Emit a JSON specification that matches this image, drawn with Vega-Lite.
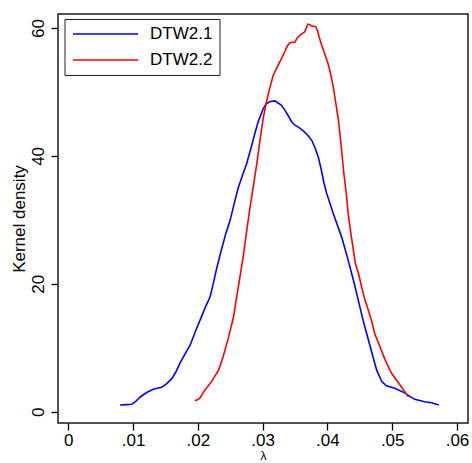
{
  "$schema": "https://vega.github.io/schema/vega-lite/v6.json",
  "width": 410,
  "height": 409,
  "autosize": "none",
  "padding": {"left": 58, "top": 14, "right": 4, "bottom": 40},
  "background": "white",
  "config": {
    "font": "Liberation Sans",
    "view": {"stroke": "#1a1a1a", "strokeWidth": 1.5}
  },
  "data": {
    "values": [
      {"series": "DTW2.1", "lambda": 0.0080, "density": 1.05},
      {"series": "DTW2.1", "lambda": 0.0090, "density": 1.1},
      {"series": "DTW2.1", "lambda": 0.0098, "density": 1.15},
      {"series": "DTW2.1", "lambda": 0.0104, "density": 1.6},
      {"series": "DTW2.1", "lambda": 0.0111, "density": 2.3},
      {"series": "DTW2.1", "lambda": 0.0121, "density": 3.0},
      {"series": "DTW2.1", "lambda": 0.0131, "density": 3.5},
      {"series": "DTW2.1", "lambda": 0.0144, "density": 3.8},
      {"series": "DTW2.1", "lambda": 0.0152, "density": 4.4},
      {"series": "DTW2.1", "lambda": 0.0160, "density": 5.2},
      {"series": "DTW2.1", "lambda": 0.0166, "density": 6.2},
      {"series": "DTW2.1", "lambda": 0.0172, "density": 7.5},
      {"series": "DTW2.1", "lambda": 0.0180, "density": 9.0},
      {"series": "DTW2.1", "lambda": 0.0188, "density": 10.4},
      {"series": "DTW2.1", "lambda": 0.0198, "density": 13.0},
      {"series": "DTW2.1", "lambda": 0.0205, "density": 14.7},
      {"series": "DTW2.1", "lambda": 0.0211, "density": 16.2},
      {"series": "DTW2.1", "lambda": 0.0219, "density": 18.0},
      {"series": "DTW2.1", "lambda": 0.0224, "density": 20.1},
      {"series": "DTW2.1", "lambda": 0.0229, "density": 22.4},
      {"series": "DTW2.1", "lambda": 0.0235, "density": 24.8},
      {"series": "DTW2.1", "lambda": 0.0243, "density": 27.8},
      {"series": "DTW2.1", "lambda": 0.0250, "density": 30.0},
      {"series": "DTW2.1", "lambda": 0.0256, "density": 32.5},
      {"series": "DTW2.1", "lambda": 0.0262, "density": 34.9},
      {"series": "DTW2.1", "lambda": 0.0269, "density": 37.0},
      {"series": "DTW2.1", "lambda": 0.0275, "density": 38.7},
      {"series": "DTW2.1", "lambda": 0.0280, "density": 40.5},
      {"series": "DTW2.1", "lambda": 0.0283, "density": 41.6},
      {"series": "DTW2.1", "lambda": 0.0288, "density": 43.5},
      {"series": "DTW2.1", "lambda": 0.0293, "density": 45.3},
      {"series": "DTW2.1", "lambda": 0.0301, "density": 47.4},
      {"series": "DTW2.1", "lambda": 0.0306, "density": 48.2},
      {"series": "DTW2.1", "lambda": 0.0312, "density": 48.5},
      {"series": "DTW2.1", "lambda": 0.0319, "density": 48.6},
      {"series": "DTW2.1", "lambda": 0.0325, "density": 48.2},
      {"series": "DTW2.1", "lambda": 0.0329, "density": 47.9},
      {"series": "DTW2.1", "lambda": 0.0334, "density": 47.2},
      {"series": "DTW2.1", "lambda": 0.0340, "density": 46.2},
      {"series": "DTW2.1", "lambda": 0.0345, "density": 45.3},
      {"series": "DTW2.1", "lambda": 0.0350, "density": 44.8},
      {"series": "DTW2.1", "lambda": 0.0358, "density": 44.3},
      {"series": "DTW2.1", "lambda": 0.0364, "density": 43.8},
      {"series": "DTW2.1", "lambda": 0.0370, "density": 43.2},
      {"series": "DTW2.1", "lambda": 0.0376, "density": 42.4},
      {"series": "DTW2.1", "lambda": 0.0381, "density": 41.2},
      {"series": "DTW2.1", "lambda": 0.0386, "density": 39.8},
      {"series": "DTW2.1", "lambda": 0.0391, "density": 37.6},
      {"series": "DTW2.1", "lambda": 0.0395, "density": 35.6},
      {"series": "DTW2.1", "lambda": 0.0399, "density": 34.1},
      {"series": "DTW2.1", "lambda": 0.0409, "density": 31.0},
      {"series": "DTW2.1", "lambda": 0.0422, "density": 27.3},
      {"series": "DTW2.1", "lambda": 0.0432, "density": 23.7},
      {"series": "DTW2.1", "lambda": 0.0442, "density": 19.8},
      {"series": "DTW2.1", "lambda": 0.0451, "density": 16.0},
      {"series": "DTW2.1", "lambda": 0.0455, "density": 14.3},
      {"series": "DTW2.1", "lambda": 0.0466, "density": 10.2},
      {"series": "DTW2.1", "lambda": 0.0476, "density": 6.5},
      {"series": "DTW2.1", "lambda": 0.0484, "density": 4.7},
      {"series": "DTW2.1", "lambda": 0.0491, "density": 4.06},
      {"series": "DTW2.1", "lambda": 0.0504, "density": 3.65},
      {"series": "DTW2.1", "lambda": 0.0520, "density": 2.9},
      {"series": "DTW2.1", "lambda": 0.0527, "density": 2.4},
      {"series": "DTW2.1", "lambda": 0.0535, "density": 1.93},
      {"series": "DTW2.1", "lambda": 0.0550, "density": 1.56},
      {"series": "DTW2.1", "lambda": 0.0561, "density": 1.4},
      {"series": "DTW2.1", "lambda": 0.0572, "density": 1.05},
      {"series": "DTW2.2", "lambda": 0.01955, "density": 1.72},
      {"series": "DTW2.2", "lambda": 0.0200, "density": 1.9},
      {"series": "DTW2.2", "lambda": 0.0203, "density": 2.1},
      {"series": "DTW2.2", "lambda": 0.0211, "density": 3.4},
      {"series": "DTW2.2", "lambda": 0.0221, "density": 4.7},
      {"series": "DTW2.2", "lambda": 0.0232, "density": 6.5},
      {"series": "DTW2.2", "lambda": 0.0239, "density": 8.6},
      {"series": "DTW2.2", "lambda": 0.0247, "density": 11.5},
      {"series": "DTW2.2", "lambda": 0.0255, "density": 14.8},
      {"series": "DTW2.2", "lambda": 0.0260, "density": 18.0},
      {"series": "DTW2.2", "lambda": 0.0265, "density": 21.1},
      {"series": "DTW2.2", "lambda": 0.0270, "density": 24.3},
      {"series": "DTW2.2", "lambda": 0.0275, "density": 28.0},
      {"series": "DTW2.2", "lambda": 0.0280, "density": 31.6},
      {"series": "DTW2.2", "lambda": 0.0286, "density": 35.5},
      {"series": "DTW2.2", "lambda": 0.0291, "density": 38.8},
      {"series": "DTW2.2", "lambda": 0.0296, "density": 42.5},
      {"series": "DTW2.2", "lambda": 0.0301, "density": 46.0},
      {"series": "DTW2.2", "lambda": 0.0306, "density": 48.5},
      {"series": "DTW2.2", "lambda": 0.0311, "density": 50.6},
      {"series": "DTW2.2", "lambda": 0.0316, "density": 52.5},
      {"series": "DTW2.2", "lambda": 0.0322, "density": 53.8},
      {"series": "DTW2.2", "lambda": 0.0328, "density": 55.0},
      {"series": "DTW2.2", "lambda": 0.0334, "density": 56.25},
      {"series": "DTW2.2", "lambda": 0.0338, "density": 57.2},
      {"series": "DTW2.2", "lambda": 0.0342, "density": 57.7},
      {"series": "DTW2.2", "lambda": 0.0350, "density": 57.8},
      {"series": "DTW2.2", "lambda": 0.0353, "density": 58.4},
      {"series": "DTW2.2", "lambda": 0.0358, "density": 58.9},
      {"series": "DTW2.2", "lambda": 0.0365, "density": 59.4},
      {"series": "DTW2.2", "lambda": 0.0368, "density": 60.2},
      {"series": "DTW2.2", "lambda": 0.0370, "density": 60.6},
      {"series": "DTW2.2", "lambda": 0.0373, "density": 60.5},
      {"series": "DTW2.2", "lambda": 0.0376, "density": 60.3},
      {"series": "DTW2.2", "lambda": 0.0382, "density": 60.2},
      {"series": "DTW2.2", "lambda": 0.0385, "density": 59.5},
      {"series": "DTW2.2", "lambda": 0.0388, "density": 58.3},
      {"series": "DTW2.2", "lambda": 0.0394, "density": 56.5},
      {"series": "DTW2.2", "lambda": 0.0401, "density": 54.4},
      {"series": "DTW2.2", "lambda": 0.0405, "density": 52.8},
      {"series": "DTW2.2", "lambda": 0.0409, "density": 50.8},
      {"series": "DTW2.2", "lambda": 0.0413, "density": 48.2},
      {"series": "DTW2.2", "lambda": 0.0417, "density": 45.6},
      {"series": "DTW2.2", "lambda": 0.0421, "density": 41.8},
      {"series": "DTW2.2", "lambda": 0.0425, "density": 37.6},
      {"series": "DTW2.2", "lambda": 0.0429, "density": 34.2},
      {"series": "DTW2.2", "lambda": 0.0432, "density": 31.0},
      {"series": "DTW2.2", "lambda": 0.0436, "density": 28.0},
      {"series": "DTW2.2", "lambda": 0.0440, "density": 25.3},
      {"series": "DTW2.2", "lambda": 0.0443, "density": 23.2},
      {"series": "DTW2.2", "lambda": 0.0448, "density": 21.6},
      {"series": "DTW2.2", "lambda": 0.0454, "density": 19.0},
      {"series": "DTW2.2", "lambda": 0.0458, "density": 17.45},
      {"series": "DTW2.2", "lambda": 0.0463, "density": 15.9},
      {"series": "DTW2.2", "lambda": 0.0468, "density": 14.3},
      {"series": "DTW2.2", "lambda": 0.0473, "density": 12.2},
      {"series": "DTW2.2", "lambda": 0.0481, "density": 10.2},
      {"series": "DTW2.2", "lambda": 0.0489, "density": 8.1},
      {"series": "DTW2.2", "lambda": 0.0499, "density": 6.0},
      {"series": "DTW2.2", "lambda": 0.0512, "density": 4.17},
      {"series": "DTW2.2", "lambda": 0.0525, "density": 2.34}
    ]
  },
  "mark": {"type": "line", "strokeWidth": 1.6},
  "encoding": {
    "x": {
      "field": "lambda",
      "type": "quantitative",
      "scale": {"domain": [-0.00159, 0.0617], "nice": false, "zero": false},
      "axis": {
        "title": "λ",
        "values": [0, 0.01, 0.02, 0.03, 0.04, 0.05, 0.06],
        "labelExpr": "datum.value == 0 ? '0' : replace(format(datum.value, '.2f'), '0.', '.')",
        "grid": false,
        "domain": false,
        "tickSize": 7,
        "tickColor": "black",
        "tickWidth": 1.3,
        "labelFontSize": 17,
        "labelColor": "black",
        "labelPadding": 2,
        "titleFontSize": 12,
        "titleFontWeight": "normal",
        "titleColor": "black",
        "titlePadding": 2
      }
    },
    "y": {
      "field": "density",
      "type": "quantitative",
      "scale": {"domain": [-1.77, 62.19], "nice": false, "zero": false},
      "axis": {
        "title": "Kernel density",
        "values": [0, 20, 40, 60],
        "grid": false,
        "domain": false,
        "tickSize": 7,
        "tickColor": "black",
        "tickWidth": 1.3,
        "labelAngle": -90,
        "labelAlign": "center",
        "labelBaseline": "alphabetic",
        "labelPadding": 8,
        "labelFontSize": 17,
        "labelColor": "black",
        "titleFontSize": 17,
        "titleFontWeight": "normal",
        "titleColor": "black",
        "titlePadding": 1
      }
    },
    "color": {
      "field": "series",
      "type": "nominal",
      "scale": {"domain": ["DTW2.1", "DTW2.2"], "range": ["#0000ff", "#ff0000"]},
      "legend": {
        "title": null,
        "orient": "none",
        "legendX": 6.5,
        "legendY": 5,
        "symbolType": "M-1,0H9",
        "symbolSize": 169,
        "symbolStrokeWidth": 1.5,
        "labelFontSize": 17,
        "labelColor": "black",
        "labelOffset": 62,
        "labelLimit": 200,
        "rowPadding": 8,
        "padding": 6.5,
        "strokeColor": "#222222",
        "fillColor": "white",
        "cornerRadius": 0
      }
    }
  }
}
